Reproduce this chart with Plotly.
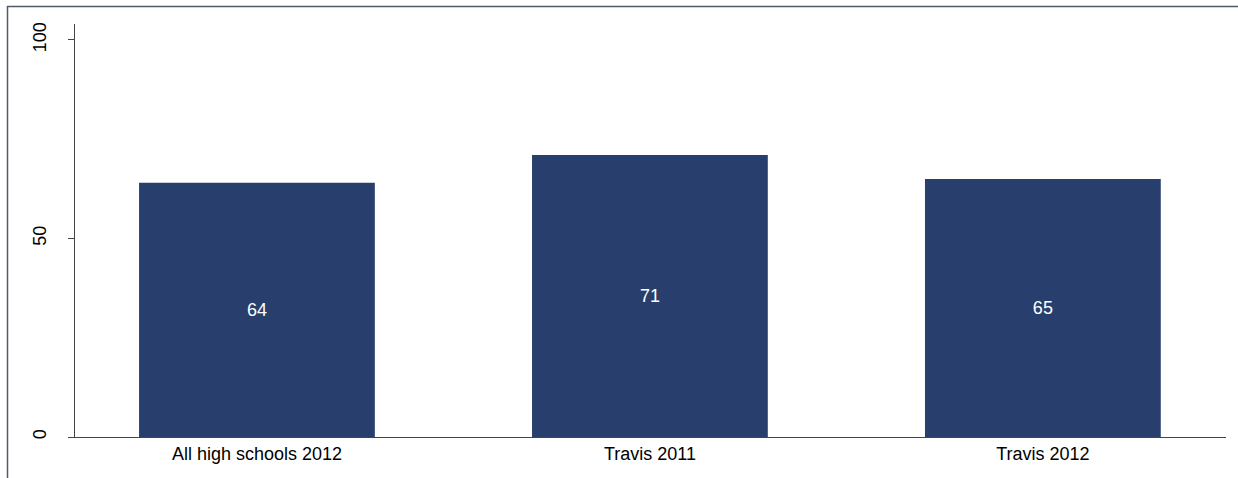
import plotly.graph_objects as go

categories = ["All high schools 2012", "Travis 2011", "Travis 2012"]
values = [64, 71, 65]
value_labels = ["64", "71", "65"]
y_ticks = [0, 50, 100]

W, H = 1238, 478
L, R, T, B = 75, 1226, 24, 437
FONT = "Liberation Sans, Arial, sans-serif"
FS = 18

fig = go.Figure(go.Bar(
    x=list(range(len(categories))),
    y=values,
    width=0.6,
    marker=dict(color="#283f6d", line=dict(width=0)),
    text=value_labels,
    textposition="inside",
    insidetextanchor="middle",
    textfont=dict(color="white", size=FS, family=FONT),
    textangle=0,
))

pw = R - L
ph = B - T
fx = lambda px: (px - L) / pw
fy = lambda py: (B - py) / ph

fig.update_layout(
    width=W, height=H,
    margin=dict(l=L, r=W - R, t=T, b=H - B),
    plot_bgcolor="white", paper_bgcolor="white",
    showlegend=False,
    font=dict(family=FONT, size=FS, color="black"),
    xaxis=dict(
        tickmode="array", tickvals=list(range(len(categories))), ticktext=categories,
        range=[-0.463, 2.466], showgrid=False, zeroline=False,
        showline=True, linecolor="#444", linewidth=1, ticks="",
        tickfont=dict(size=FS),
    ),
    yaxis=dict(
        range=[0, 104], tickvals=y_ticks, showgrid=False, zeroline=False,
        showline=True, linecolor="#444", linewidth=1,
        ticks="outside", ticklen=6, tickcolor="#444",
        tickangle=-90, tickfont=dict(size=FS), ticklabelstandoff=15,
    ),
    shapes=[
        dict(type="line", xref="paper", yref="paper", x0=fx(7), x1=fx(W), y0=fy(6.5), y1=fy(6.5),
             line=dict(color="#505a66", width=1.5)),
        dict(type="line", xref="paper", yref="paper", x0=fx(7.5), x1=fx(7.5), y0=fy(6), y1=fy(H),
             line=dict(color="#505a66", width=1.5)),
    ],
)

fig.write_html("out.html", config={"displayModeBar": False},
               post_script="document.body.style.margin='0px';document.body.style.overflow='hidden';")
